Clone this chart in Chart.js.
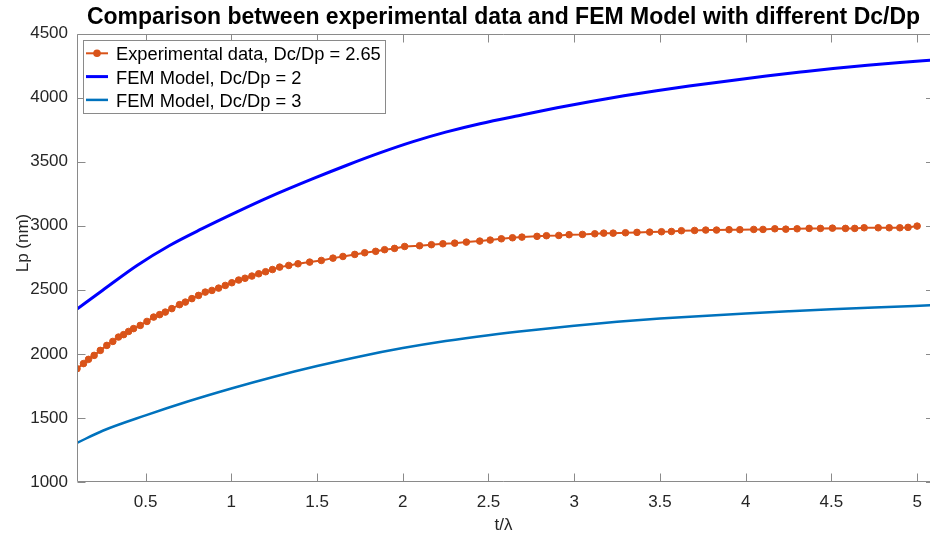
<!DOCTYPE html>
<html>
<head>
<meta charset="utf-8">
<title>Lp vs t/λ</title>
<script src="https://cdn.jsdelivr.net/npm/chart.js@4.4.1/dist/chart.umd.min.js"></script>
<style>
  html, body { margin: 0; padding: 0; background: #fff; }
  #lp-chart { display: block; }
</style>
</head>
<body>
<canvas id="lp-chart" width="930" height="538"></canvas>
<script>
// Experimental data, Dc/Dp = 2.65
const expT = [0.1, 0.138, 0.167, 0.2, 0.236, 0.274, 0.309, 0.342, 0.372, 0.401,
  0.43, 0.469, 0.508, 0.547, 0.582, 0.615, 0.653, 0.698, 0.732, 0.77,
  0.809, 0.848, 0.887, 0.926, 0.965, 1.003, 1.043, 1.08, 1.12, 1.16,
  1.2, 1.24, 1.282, 1.335, 1.389, 1.457, 1.525, 1.593, 1.651, 1.72,
  1.778, 1.842, 1.894, 1.952, 2.011, 2.098, 2.167, 2.234, 2.303, 2.371,
  2.449, 2.51, 2.575, 2.64, 2.695, 2.783, 2.838, 2.91, 2.97, 3.048,
  3.12, 3.172, 3.227, 3.299, 3.366, 3.44, 3.509, 3.567, 3.625, 3.702,
  3.767, 3.83, 3.903, 3.966, 4.047, 4.101, 4.17, 4.234, 4.3, 4.37,
  4.436, 4.506, 4.582, 4.636, 4.691, 4.773, 4.837, 4.899, 4.947, 5.0];
const expLp = [1884, 1924, 1957, 1988, 2027, 2066, 2097, 2131, 2150, 2175,
  2197, 2222, 2253, 2287, 2306, 2326, 2353, 2384, 2404, 2431,
  2456, 2482, 2495, 2513, 2534, 2555, 2576, 2590, 2607, 2625,
  2641, 2658, 2677, 2690, 2703, 2716, 2729, 2747, 2760, 2776,
  2789, 2800, 2813, 2823, 2838, 2844, 2852, 2859, 2864, 2872,
  2880, 2888, 2898, 2906, 2911, 2917, 2922, 2924, 2930, 2932,
  2937, 2942, 2942, 2945, 2948, 2950, 2953, 2955, 2961, 2963,
  2966, 2966, 2969, 2969, 2971, 2971, 2976, 2973, 2976, 2979,
  2979, 2981, 2979, 2979, 2984, 2984, 2984, 2984, 2987, 2997];

// FEM model, Dc/Dp = 2
const fem2T = [0.1, 0.25, 0.45, 0.64, 0.83, 1.03, 1.22, 1.48, 1.67, 1.87,
  2.06, 2.25, 2.45, 2.7, 2.9, 3.09, 3.29, 3.48, 3.67, 3.93,
  4.12, 4.32, 4.51, 4.71, 4.9, 5.1];
const fem2Lp = [2350, 2497, 2690, 2846, 2977, 3106, 3223, 3369, 3470, 3570,
  3656, 3730, 3796, 3866, 3920, 3968, 4014, 4054, 4090, 4136,
  4168, 4199, 4227, 4252, 4273, 4293];

// FEM model, Dc/Dp = 3
const fem3T = [0.1, 0.25, 0.5, 0.75, 1.0, 1.25, 1.5, 1.75, 2.0, 2.25,
  2.5, 2.75, 3.0, 3.25, 3.5, 3.75, 4.0, 4.25, 4.5, 4.75, 5.1];
const fem3Lp = [1305, 1400, 1520, 1630, 1730, 1822, 1905, 1980, 2045, 2100,
  2146, 2185, 2219, 2250, 2275, 2296, 2315, 2332, 2348, 2362, 2380];

const xTicks = [0.5, 1, 1.5, 2, 2.5, 3, 3.5, 4, 4.5, 5];
const yTicks = [1000, 1500, 2000, 2500, 3000, 3500, 4000, 4500];

const FONT = "'Liberation Sans', Arial, Helvetica, sans-serif";
const TEXT_COLOR = '#262626';
const AXIS_COLOR = '#8a8a8a';
const ORANGE = '#D95319';

function toPoints(xs, ys) {
    return xs.map((x, i) => ({ x: x, y: ys[i] }));
}

// axes outline with inward tick marks; the right edge of the box sits
// just past the canvas, so only the inner ends of its ticks show
const axesBox = {
    id: 'axesBox',
    afterDatasetsDraw(chart) {
        const { ctx, chartArea: a, scales: { x, y } } = chart;
        const L = Math.round(a.left) + 0.5;
        const R = Math.round(a.right);
        const T = Math.round(a.top) + 0.5;
        const B = Math.round(a.bottom) - 0.5;
        const len = 8;
        ctx.save();
        ctx.strokeStyle = AXIS_COLOR;
        ctx.lineWidth = 1;
        ctx.beginPath();
        ctx.moveTo(R, T); ctx.lineTo(L, T); ctx.lineTo(L, B); ctx.lineTo(R, B);
        x.ticks.forEach(t => {
            const px = Math.round(x.getPixelForValue(t.value)) + 0.5;
            ctx.moveTo(px, B); ctx.lineTo(px, B - len);
            ctx.moveTo(px, T); ctx.lineTo(px, T + len);
        });
        y.ticks.forEach(t => {
            const py = Math.round(y.getPixelForValue(t.value)) + 0.5;
            ctx.moveTo(L, py); ctx.lineTo(L + len, py);
            ctx.moveTo(R, py); ctx.lineTo(R - len / 2, py);
        });
        ctx.stroke();
        ctx.restore();
    }
};

// legend box in the upper left corner and the rotated y label
const boxLegend = {
    id: 'boxLegend',
    afterDraw(chart) {
        const ctx = chart.ctx;
        const left = 83.5, top = 40.5, width = 302, height = 73;
        const rowH = 23.3;
        ctx.save();
        ctx.fillStyle = '#ffffff';
        ctx.fillRect(left, top, width, height);
        ctx.strokeStyle = AXIS_COLOR;
        ctx.lineWidth = 1;
        ctx.strokeRect(left, top, width, height);

        ctx.font = '18.3px ' + FONT;
        ctx.textBaseline = 'alphabetic';
        ctx.textAlign = 'left';
        chart.data.datasets.forEach((ds, i) => {
            const cy = top + 12.8 + i * rowH;
            ctx.strokeStyle = ds.borderColor;
            ctx.lineWidth = ds.borderWidth;
            ctx.beginPath();
            ctx.moveTo(left + 2.5, cy);
            ctx.lineTo(left + 24.5, cy);
            ctx.stroke();
            if (ds.pointRadius > 0) {
                ctx.fillStyle = ds.pointBackgroundColor;
                ctx.beginPath();
                ctx.arc(left + 13.5, cy, ds.pointRadius + 0.5, 0, Math.PI * 2);
                ctx.fill();
            }
            ctx.fillStyle = '#000000';
            ctx.fillText(ds.label, left + 32.5, cy + 7);
        });

        ctx.fillStyle = TEXT_COLOR;
        ctx.font = '17px ' + FONT;
        ctx.translate(23, 243);
        ctx.rotate(-Math.PI / 2);
        ctx.textAlign = 'center';
        ctx.textBaseline = 'middle';
        ctx.fillText('Lp (nm)', 0, 0);
        ctx.restore();
    }
};

const ctx = document.getElementById('lp-chart').getContext('2d');
new Chart(ctx, {
    type: 'line',
    data: {
        datasets: [
            {
                label: 'Experimental data, Dc/Dp = 2.65',
                data: toPoints(expT, expLp),
                borderColor: ORANGE,
                borderWidth: 2,
                pointRadius: 3.3,
                pointBorderWidth: 1,
                pointBorderColor: ORANGE,
                pointBackgroundColor: ORANGE,
                tension: 0
            },
            {
                label: 'FEM Model, Dc/Dp = 2',
                data: toPoints(fem2T, fem2Lp),
                borderColor: '#0000FF',
                borderWidth: 3,
                pointRadius: 0,
                cubicInterpolationMode: 'monotone'
            },
            {
                label: 'FEM Model, Dc/Dp = 3',
                data: toPoints(fem3T, fem3Lp),
                borderColor: '#0072BD',
                borderWidth: 2.5,
                pointRadius: 0,
                cubicInterpolationMode: 'monotone'
            }
        ]
    },
    options: {
        responsive: false,
        animation: false,
        devicePixelRatio: 1,
        layout: { autoPadding: false, padding: 0 },
        plugins: {
            legend: { display: false },
            tooltip: { enabled: false },
            title: {
                display: true,
                fullSize: false,
                text: 'Comparison between experimental data and FEM Model with different Dc/Dp',
                color: '#000000',
                font: { family: FONT, size: 23, weight: 'bold' },
                padding: { top: 4, bottom: 1.9 }
            }
        },
        scales: {
            x: {
                type: 'linear',
                min: 0.1,
                max: 5.075,
                afterFit: function(scale) {
                    scale.height = 56;
                    scale.paddingLeft = 0;
                    scale.paddingRight = 0;
                },
                afterBuildTicks: function(scale) {
                    scale.ticks = xTicks.map(v => ({ value: v }));
                },
                grid: { display: false, drawTicks: false },
                border: { display: false },
                ticks: {
                    color: TEXT_COLOR,
                    font: { family: FONT, size: 17 },
                    padding: 10,
                    maxRotation: 0,
                    callback: v => String(v)
                },
                title: {
                    display: true,
                    text: 't/λ',
                    color: TEXT_COLOR,
                    font: { family: FONT, size: 17 },
                    padding: { top: 0, bottom: 2 }
                }
            },
            y: {
                min: 1000,
                max: 4500,
                afterFit: function(scale) {
                    scale.width = 77;
                    scale.paddingTop = 0;
                    scale.paddingBottom = 0;
                },
                afterBuildTicks: function(scale) {
                    scale.ticks = yTicks.map(v => ({ value: v }));
                },
                grid: { display: false, drawTicks: false },
                border: { display: false },
                ticks: {
                    color: TEXT_COLOR,
                    font: { family: FONT, size: 17 },
                    padding: 9,
                    callback: v => String(v)
                }
            }
        }
    },
    plugins: [axesBox, boxLegend]
});
</script>
</body>
</html>
